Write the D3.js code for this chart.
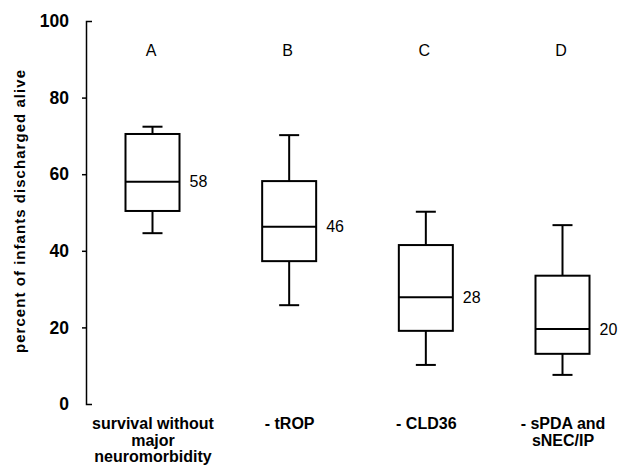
<!DOCTYPE html>
<html>
<head>
<meta charset="utf-8">
<script src="https://cdn.jsdelivr.net/npm/d3@7"></script>
<style>
  body { margin: 0; background: #fff; }
  svg { display: block; font-family: "Liberation Sans", Arial, sans-serif; }
</style>
</head>
<body>
<svg id="chart"></svg>
<script>
// values
const letters = ['A', 'B', 'C', 'D'];
const categories = [
  ['survival without', 'major', 'neuromorbidity'],
  ['- tROP'],
  ['- CLD36'],
  ['- sPDA and', 'sNEC/IP']
];
const whiskerLow = [44.6, 25.8, 10.2, 7.6];
const q1 = [50.4, 37.3, 19.1, 13.1];
const median = [58, 46.3, 27.9, 19.6];
const q3 = [70.5, 58.2, 41.5, 33.5];
const whiskerHigh = [72.4, 70.2, 50.2, 46.7];
const medianLabels = ['58', '46', '28', '20'];
const yTicks = [0, 20, 40, 60, 80, 100];

const svg = d3.select('#chart')
  .attr('width', 622)
  .attr('height', 466);

const axisX = 86;

const y = d3.scaleLinear()
  .domain([0, 100])
  .range([404, 21]);

const x = d3.scalePoint()
  .domain(letters)
  .range([152.5, 562.5]);

const boxW = 54;
const capW = 20;

// y axis
const yAxis = svg.append('g')
  .attr('transform', `translate(${axisX},0)`)
  .call(d3.axisLeft(y).tickValues(yTicks).tickSize(4).tickSizeOuter(-6).tickPadding(13));

yAxis.select('.domain').attr('stroke-width', 1.5);
yAxis.selectAll('.tick line')
  .attr('stroke-width', 1.5)
  .filter(d => d === 0 || d === 100).remove();
yAxis.selectAll('.tick text')
  .attr('font-size', 17.5)
  .attr('font-weight', 'bold')
  .attr('font-family', '"Liberation Sans", Arial, sans-serif')
  .attr('fill', '#000');

// title stretched to the length it has in the figure
svg.append('text')
  .attr('transform', 'translate(25,211.5) rotate(-90)')
  .attr('text-anchor', 'middle')
  .attr('font-size', 15)
  .attr('font-weight', 'bold')
  .attr('textLength', 283)
  .attr('lengthAdjust', 'spacing')
  .text('percent of infants discharged alive');

const boxes = svg.append('g')
  .attr('fill', 'none')
  .attr('stroke', '#000')
  .attr('stroke-width', 2)
  .selectAll('g')
  .data(letters)
  .join('g');

// whiskers
boxes.append('line')
  .attr('x1', d => x(d)).attr('x2', d => x(d))
  .attr('y1', (d, i) => y(whiskerHigh[i]))
  .attr('y2', (d, i) => y(q3[i]));
boxes.append('line')
  .attr('x1', d => x(d)).attr('x2', d => x(d))
  .attr('y1', (d, i) => y(q1[i]))
  .attr('y2', (d, i) => y(whiskerLow[i]));
boxes.append('line')
  .attr('x1', d => x(d) - capW / 2).attr('x2', d => x(d) + capW / 2)
  .attr('y1', (d, i) => y(whiskerHigh[i]))
  .attr('y2', (d, i) => y(whiskerHigh[i]));
boxes.append('line')
  .attr('x1', d => x(d) - capW / 2).attr('x2', d => x(d) + capW / 2)
  .attr('y1', (d, i) => y(whiskerLow[i]))
  .attr('y2', (d, i) => y(whiskerLow[i]));

// box + median
boxes.append('rect')
  .attr('x', d => x(d) - boxW / 2)
  .attr('width', boxW)
  .attr('y', (d, i) => y(q3[i]))
  .attr('height', (d, i) => y(q1[i]) - y(q3[i]))
  .attr('fill', '#fff');
boxes.append('line')
  .attr('x1', d => x(d) - boxW / 2).attr('x2', d => x(d) + boxW / 2)
  .attr('y1', (d, i) => y(median[i]))
  .attr('y2', (d, i) => y(median[i]));

// median labels
svg.append('g')
  .selectAll('text')
  .data(letters)
  .join('text')
  .attr('x', d => x(d) + boxW / 2 + 10)
  .attr('y', (d, i) => y(median[i]))
  .attr('dy', '0.35em')
  .attr('font-size', 16)
  .text((d, i) => medianLabels[i]);

// group letters
svg.append('g')
  .selectAll('text')
  .data(letters)
  .join('text')
  .attr('x', d => x(d) - 1.5)
  .attr('y', 56)
  .attr('text-anchor', 'middle')
  .attr('font-size', 16)
  .text(d => d);

// category labels under the plot
svg.append('g')
  .selectAll('text')
  .data(letters)
  .join('text')
  .attr('x', d => x(d) + 0.5)
  .attr('y', 429)
  .attr('text-anchor', 'middle')
  .attr('font-size', 16)
  .attr('font-weight', 'bold')
  .selectAll('tspan')
  .data((d, i) => categories[i].map(t => ({ t, cx: x(d) + 0.5 })))
  .join('tspan')
  .attr('x', d => d.cx)
  .attr('dy', (d, j) => j === 0 ? 0 : 16.5)
  .text(d => d.t);
</script>
</body>
</html>
